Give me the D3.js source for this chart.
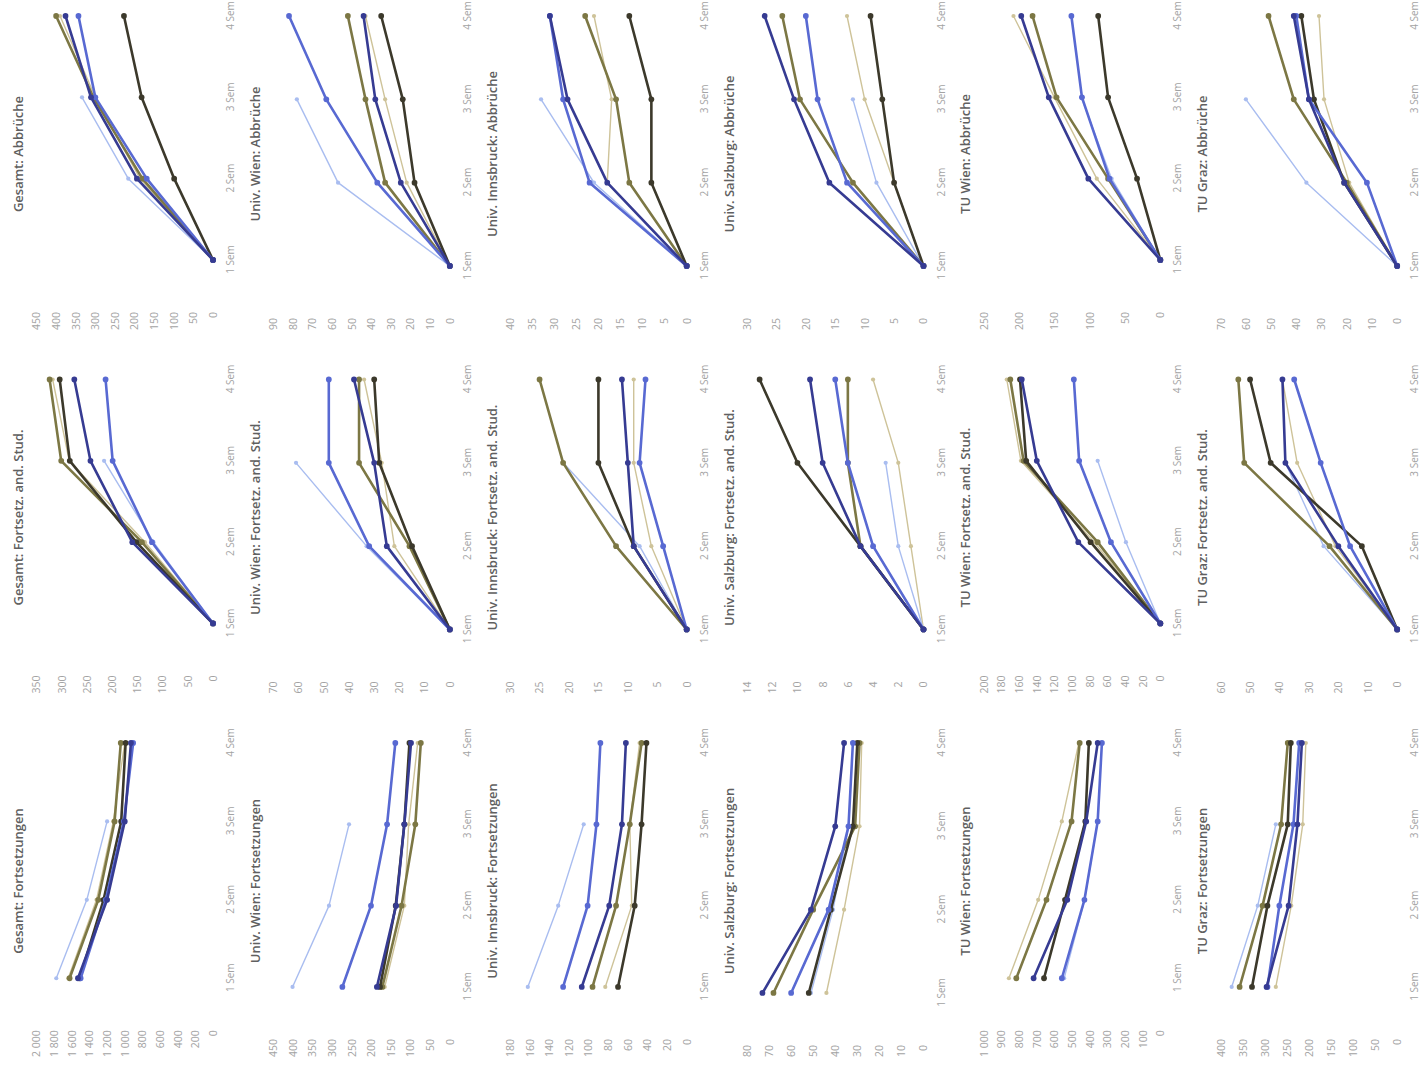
<!DOCTYPE html>
<html>
<head>
<meta charset="utf-8">
<script src="https://cdn.jsdelivr.net/npm/d3@7"></script>
<style>
  body { margin: 0; background: #fff; }
  svg { display: block; }
</style>
</head>
<body>
<svg id="chart" width="1421" height="1073"></svg>
<script>
// Semester categories on the horizontal axis of each small chart
const semester = ["1 Sem", "2 Sem", "3 Sem", "4 Sem"];

// Six entry cohorts; the newest one (first) only has three semesters so far
const kohorten = ["Kohorte 6", "Kohorte 5", "Kohorte 4", "Kohorte 3", "Kohorte 2", "Kohorte 1"];

// Institutions (rows) and measures (columns)
const institutionen = ["Gesamt", "Univ. Wien", "Univ. Innsbruck", "Univ. Salzburg", "TU Wien", "TU Graz"];
const kennzahlen = ["Fortsetzungen", "Fortsetz. and. Stud.", "Abbrüche"];

// Value-axis maxima and tick steps: [Fortsetzungen, and. Stud., Abbrüche] per institution
const achsenMax = [[2000, 350, 450], [450, 70, 90], [180, 30, 40], [80, 14, 30], [1000, 200, 250], [400, 60, 70]];
const achsenSchritt = [[200, 50, 50], [50, 10, 10], [20, 5, 5], [10, 2, 5], [100, 20, 50], [50, 10, 10]];

// ---- Gesamt ----
const gesamtFortsetzungen = [
  [1776, 1430, 1200],
  [1500, 1215, 1010, 905],
  [1530, 1200, 1000, 930],
  [1625, 1300, 1115, 1045],
  [1640, 1320, 1130, 1000],
  [1510, 1240, 1040, 990]
];
const gesamtAndStud = [
  [0, 118, 216],
  [0, 121, 199, 213],
  [0, 160, 243, 275],
  [0, 141, 301, 324],
  [0, 135, 285, 318],
  [0, 152, 284, 304]
];
const gesamtAbbrueche = [
  [0, 216, 334],
  [0, 169, 300, 343],
  [0, 194, 311, 376],
  [0, 180, 305, 400],
  [0, 186, 300, 390],
  [0, 99, 182, 227]
];

// ---- Univ. Wien ----
const wienFortsetzungen = [
  [401, 308, 257],
  [274, 201, 160, 139],
  [186, 137, 116, 99],
  [172, 123, 88, 74],
  [166, 116, 105, 82],
  [178, 138, 116, 103]
];
const wienAndStud = [
  [0, 33, 61],
  [0, 32, 48, 48],
  [0, 25, 30, 38],
  [0, 16, 36, 36],
  [0, 22, 27, 34],
  [0, 15, 28, 30]
];
const wienAbbrueche = [
  [0, 57, 78],
  [0, 37, 63, 82],
  [0, 25, 38, 44],
  [0, 33, 43, 52],
  [0, 22, 33, 43],
  [0, 18, 24, 35]
];

// ---- Univ. Innsbruck ----
const innsbruckFortsetzungen = [
  [162, 131, 105],
  [126, 101, 92, 88],
  [107, 79, 66, 62],
  [96, 72, 58, 46],
  [83, 56, 58, 48],
  [70, 53, 46, 41]
];
const innsbruckAndStud = [
  [0, 8, 21],
  [0, 4, 8, 7],
  [0, 9, 10, 11],
  [0, 12, 21, 25],
  [0, 6, 9, 9],
  [0, 9, 15, 15]
];
const innsbruckAbbrueche = [
  [0, 21, 33],
  [0, 22, 28, 31],
  [0, 18, 27, 31],
  [0, 13, 16, 23],
  [0, 18, 17, 21],
  [0, 8, 8, 13]
];

// ---- Univ. Salzburg ----
const salzburgFortsetzungen = [
  [51, 41, 34],
  [60, 43, 34, 32],
  [73, 51, 40, 36],
  [68, 50, 31, 29],
  [44, 36, 29, 28],
  [52, 42, 32, 30]
];
const salzburgAndStud = [
  [0, 2, 3],
  [0, 4, 6, 7],
  [0, 5, 8, 9],
  [0, 5, 6, 6],
  [0, 1, 2, 4],
  [0, 5, 10, 13]
];
const salzburgAbbrueche = [
  [0, 8, 12],
  [0, 13, 18, 20],
  [0, 16, 22, 27],
  [0, 12, 21, 24],
  [0, 5, 10, 13],
  [0, 5, 7, 9]
];

// ---- TU Wien ----
const tuWienFortsetzungen = [
  [545, 429, 355],
  [558, 430, 355, 331],
  [718, 527, 420, 355],
  [816, 645, 503, 457],
  [858, 692, 558, 462],
  [659, 540, 425, 405]
];
const tuWienAndStud = [
  [0, 39, 71],
  [0, 56, 92, 98],
  [0, 93, 140, 157],
  [0, 71, 155, 170],
  [0, 75, 158, 174],
  [0, 79, 152, 159]
];
const tuWienAbbrueche = [
  [0, 69, 112],
  [0, 72, 111, 126],
  [0, 102, 158, 197],
  [0, 74, 147, 181],
  [0, 90, 150, 208],
  [0, 33, 74, 88]
];

// ---- TU Graz ----
const tuGrazFortsetzungen = [
  [375, 316, 275],
  [294, 267, 235, 222],
  [296, 246, 226, 216],
  [357, 305, 263, 248],
  [275, 240, 214, 207],
  [329, 294, 248, 241]
];
const tuGrazAndStud = [
  [0, 25, 38],
  [0, 16, 26, 35],
  [0, 20, 38, 39],
  [0, 23, 52, 54],
  [0, 21, 34, 39],
  [0, 12, 43, 50]
];
const tuGrazAbbrueche = [
  [0, 36, 60],
  [0, 12, 35, 40],
  [0, 21, 35, 41],
  [0, 20, 41, 51],
  [0, 19, 29, 31],
  [0, 21, 33, 38]
];

// Panel data in row (institution) / column (measure) order
const panelDaten = [
  [gesamtFortsetzungen, gesamtAndStud, gesamtAbbrueche],
  [wienFortsetzungen, wienAndStud, wienAbbrueche],
  [innsbruckFortsetzungen, innsbruckAndStud, innsbruckAbbrueche],
  [salzburgFortsetzungen, salzburgAndStud, salzburgAbbrueche],
  [tuWienFortsetzungen, tuWienAndStud, tuWienAbbrueche],
  [tuGrazFortsetzungen, tuGrazAndStud, tuGrazAbbrueche]
];

// Series styling (same order as kohorten)
const farben = ["#a9bdf0", "#5869d2", "#363b92", "#7c7744", "#cec399", "#3c392b"];
const linienStaerke = [1.4, 2.6, 2.6, 2.6, 1.4, 2.6];
const markerFlaeche = [14, 26, 26, 26, 14, 26];
const zeichenReihenfolge = [4, 0, 3, 5, 1, 2];

// ---- Layout (drawn in an upright frame, then turned a quarter to the left) ----
const W = 1421, H = 1073;
const frameW = H, frameH = W;           // upright frame: 1073 wide, 1421 tall
const zeilenH = frameH / 6;
const spaltenB = 363.5;
const plotOben = 36.5, plotUnten = 213;
const schrift = "'Open Sans', 'Liberation Sans', sans-serif";

const de = d3.formatLocale({ decimal: ",", thousands: " ", grouping: [3], currency: ["", " €"] });
const fmt = de.format(",");

const svg = d3.select("#chart");
svg.append("rect").attr("width", W).attr("height", H).attr("fill", "#fff");

const rahmen = svg.append("g")
  .attr("transform", `translate(0,${H}) rotate(-90)`);

institutionen.forEach((inst, r) => {
  kennzahlen.forEach((kz, c) => {
    const x0 = c * spaltenB;
    const y0 = r * zeilenH;
    const g = rahmen.append("g").attr("transform", `translate(${x0},${y0})`);
    const reihen = panelDaten[r][c];

    const yMax = achsenMax[r][c], step = achsenSchritt[r][c];
    const y = d3.scaleLinear().domain([0, yMax]).range([plotUnten, plotOben]);

    // value axis: labels only
    const yAchse = g.append("g")
      .call(d3.axisLeft(y).tickValues(d3.range(0, yMax + step / 2, step))
        .tickSize(0).tickPadding(0).tickFormat(fmt));
    yAchse.select(".domain").remove();
    yAchse.selectAll("text")
      .attr("font-family", schrift).attr("font-size", 10.5).attr("fill", "#a3a3a3");
    yAchse.attr("font-family", null).attr("font-size", null);
    const labelB = d3.max(yAchse.selectAll("text").nodes(), n => n.getComputedTextLength());
    const labelEnde = 16 + labelB;
    yAchse.attr("transform", `translate(${labelEnde},0)`);

    const x = d3.scalePoint().domain(semester).range([labelEnde + 52, 330]);

    // category axis: labels only
    const xAchse = g.append("g")
      .attr("transform", `translate(0,${plotUnten})`)
      .call(d3.axisBottom(x).tickSize(0).tickPadding(14));
    xAchse.select(".domain").remove();
    xAchse.selectAll("text")
      .attr("font-family", schrift).attr("font-size", 10).attr("fill", "#a3a3a3");
    xAchse.attr("font-family", null).attr("font-size", null);

    // title
    g.append("text")
      .attr("x", 192).attr("y", 23)
      .attr("text-anchor", "middle")
      .attr("font-family", schrift).attr("font-size", 13).attr("font-weight", 600)
      .attr("fill", "#606060")
      .text(`${inst}: ${kz}`);

    const linie = d3.line().x((d, i) => x(semester[i])).y(d => y(d));

    zeichenReihenfolge.forEach(k => {
      const werte = reihen[k];
      const sg = g.append("g").attr("class", "reihe").attr("data-kohorte", kohorten[k]);
      sg.append("path")
        .datum(werte)
        .attr("d", linie)
        .attr("fill", "none")
        .attr("stroke", farben[k])
        .attr("stroke-width", linienStaerke[k])
        .attr("stroke-linejoin", "round");
      sg.selectAll("path.m")
        .data(werte)
        .join("path")
        .attr("class", "m")
        .attr("transform", (d, i) => `translate(${x(semester[i])},${y(d)})`)
        .attr("d", d3.symbol(d3.symbolCircle, markerFlaeche[k]))
        .attr("fill", farben[k]);
    });
  });
});
</script>
</body>
</html>
